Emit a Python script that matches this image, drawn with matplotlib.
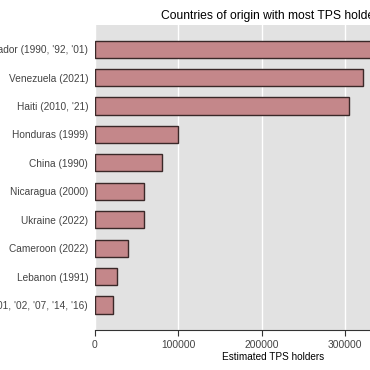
import matplotlib.pyplot as plt

labels = ["El Salvador (1990, '92, '01)", "Venezuela (2021)", "Haiti (2010, '21)",
          "Honduras (1999)", "China (1990)", "Nicaragua (2000)", "Ukraine (2022)",
          "Cameroon (2022)", "Lebanon (1991)", "Somalia (1991, '01, '02, '07, '14, '16)"]
holders = [400000, 322000, 305000, 100000, 80000, 59000, 59000, 40000, 26000, 22000]
xticks = [0, 100000, 200000, 300000, 400000]

plt.rcParams['font.family'] = ['Liberation Sans', 'DejaVu Sans']

fig = plt.figure(figsize=(3.7, 3.7), dpi=100)
# axes runs past the right edge of the picture, like the cropped original
ax = fig.add_axes([95/370, 40/370, 356/370, 305/370])
ax.set_facecolor('#e2e2e2')

ypos = list(range(len(labels)))
ax.barh(ypos, holders, height=0.6, color='#c4878a', edgecolor='#3a2828', linewidth=1.0, zorder=3)

ax.set_yticks(ypos)
ax.set_yticklabels(labels, fontsize=7.3, color='#444444')
ax.set_ylim(9.88, -0.85)
ax.set_xlim(0, 427000)
ax.set_xticks(xticks)
ax.set_xticklabels([str(t) for t in xticks], fontsize=7.4, color='#444444')

ax.grid(axis='x', color='white', linewidth=1.0, zorder=0)
for s in ['top', 'right', 'left']:
    ax.spines[s].set_visible(False)
ax.spines['bottom'].set_color('#333333')
ax.spines['bottom'].set_linewidth(0.8)
ax.tick_params(axis='y', length=0, pad=5)
ax.tick_params(axis='x', length=4, color='#333333', pad=3)

ax.set_xlabel('Estimated TPS holders', fontsize=7.2, labelpad=2)
ax.set_title('Countries of origin with most TPS holders', fontsize=8.7, pad=4)

fig.savefig('out.png', dpi=100)
